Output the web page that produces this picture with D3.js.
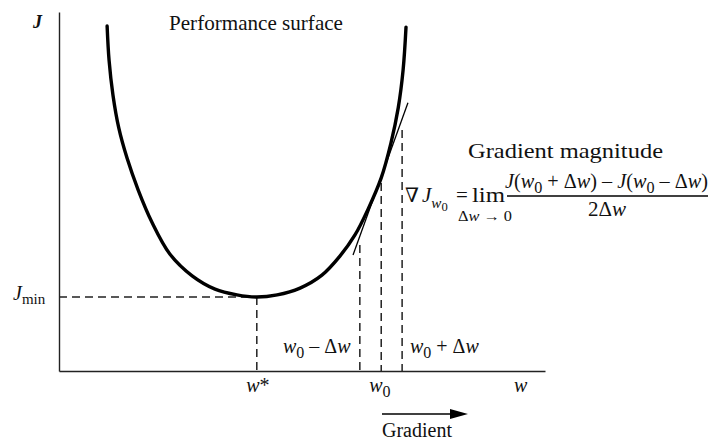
<!DOCTYPE html>
<html>
<head>
<meta charset="utf-8">
<script src="https://cdn.jsdelivr.net/npm/d3@7"></script>
<style>
  body { margin: 0; background: #fff; }
  text { font-family: "Liberation Serif", "DejaVu Serif", serif; fill: #111; }
</style>
</head>
<body>
<div id="chart"></div>
<script>
// performance surface J(w) (axis units 0..10)
const curveW = [0.99, 1.03, 1.11, 1.23, 1.40, 1.63, 1.91, 2.28, 2.74, 3.21, 3.66, 4.07, 4.49, 4.96, 5.41, 5.78, 6.09, 6.36, 6.63, 6.83, 6.98, 7.08, 7.14];
const curveJ = [9.61, 8.66, 7.69, 6.77, 5.93, 5.04, 4.15, 3.26, 2.65, 2.28, 2.12, 2.06, 2.12, 2.31, 2.67, 3.20, 3.79, 4.51, 5.38, 6.35, 7.33, 8.38, 9.58];

// tangent at w0
const tangentW = [6.05, 7.18];
const tangentJ = [3.23, 7.47];

// markers
const wStar = 4.07;
const jMin = 2.06;
const markerW = [6.19, 6.63, 7.06];     // w0 - dw, w0, w0 + dw
const markerTopJ = [3.51, 5.24, 6.71];

const W = 711, H = 441;
let svg, x, y;

function initViz() {
    svg = d3.select("#chart")
        .append("svg")
        .attr("width", W)
        .attr("height", H)
        .attr("viewBox", `0 0 ${W} ${H}`);

    x = d3.scaleLinear().domain([0, 10]).range([59, 545]);
    y = d3.scaleLinear().domain([0, 10]).range([371, 12]);

    drawAxes();
    drawGuides();
    drawCurve();
    drawLabels();
    drawFormula();
}

function drawAxes() {
    // plain axes, no ticks
    svg.append("g")
        .attr("transform", `translate(0,${y(0)})`)
        .call(d3.axisBottom(x).tickValues([]).tickSizeOuter(0))
        .select(".domain")
        .attr("stroke", "#222")
        .attr("stroke-width", 1.4);

    svg.append("g")
        .attr("transform", `translate(${x(0)},0)`)
        .call(d3.axisLeft(y).tickValues([]).tickSizeOuter(0))
        .select(".domain")
        .attr("stroke", "#222")
        .attr("stroke-width", 1.4);
}

function dashed(x1, y1, x2, y2) {
    svg.append("line")
        .attr("x1", x1).attr("y1", y1)
        .attr("x2", x2).attr("y2", y2)
        .attr("stroke", "#222")
        .attr("stroke-width", 1.5)
        .attr("stroke-dasharray", "8,5");
}

function drawGuides() {
    dashed(x(0), y(jMin), x(wStar), y(jMin));
    dashed(x(wStar), y(jMin), x(wStar), y(0));
    markerW.forEach((w, i) => dashed(x(w), y(markerTopJ[i]), x(w), y(0)));
}

function drawCurve() {
    const pts = curveW.map((w, i) => [w, curveJ[i]]);
    const line = d3.line()
        .x(d => x(d[0]))
        .y(d => y(d[1]))
        .curve(d3.curveCatmullRom);

    svg.append("path")
        .datum(pts)
        .attr("d", line)
        .attr("fill", "none")
        .attr("stroke", "#000")
        .attr("stroke-width", 3.4)
        .attr("stroke-linecap", "round");

    svg.append("line")
        .attr("x1", x(tangentW[0])).attr("y1", y(tangentJ[0]))
        .attr("x2", x(tangentW[1])).attr("y2", y(tangentJ[1]))
        .attr("stroke", "#000")
        .attr("stroke-width", 1.3);
}

// text with runs: [str, italic, sizeScale, dy]
function richText(px, py, runs, size, opts = {}) {
    const t = svg.append("text")
        .attr("x", px)
        .attr("y", py)
        .style("font-size", size + "px")
        .attr("text-anchor", opts.anchor || "start");
    if (opts.bold) t.style("font-weight", "bold");
    runs.forEach(r => {
        t.append("tspan")
            .text(r[0])
            .style("font-style", r[1] ? "italic" : "normal")
            .style("font-size", (r[2] || 1) * size + "px")
            .attr("dy", r[3] || 0);
    });
    if (opts.len) t.attr("textLength", opts.len).attr("lengthAdjust", "spacingAndGlyphs");
    return t;
}

function drawLabels() {
    richText(33, 28, [["J", true]], 18, { bold: true });
    richText(169, 30, [["Performance surface"]], 21, { len: 174 });
    richText(13, 300, [["J", true], ["min", false, 0.75, 4]], 20);

    richText(283, 353, [["w", true], ["0", false, 0.8, 5], [" \u2013 \u0394", false, 1, -5], ["w", true]], 20);
    richText(410, 353, [["w", true], ["0", false, 0.8, 5], [" + \u0394", false, 1, -5], ["w", true]], 20);

    richText(x(wStar) + 1, 392, [["w", true], ["*"]], 20, { anchor: "middle" });
    richText(x(markerW[1]) - 12, 392, [["w", true], ["0", false, 0.8, 5]], 20);
    richText(514, 392, [["w", true]], 20);

    // gradient direction arrow
    svg.append("line")
        .attr("x1", 382).attr("y1", 414)
        .attr("x2", 455).attr("y2", 414)
        .attr("stroke", "#000")
        .attr("stroke-width", 1.4);
    svg.append("path")
        .attr("d", "M468,414 L450,409 L450,419 Z")
        .attr("fill", "#000");
    richText(382, 437, [["Gradient"]], 20, { len: 70 });
}

function drawFormula() {
    richText(468, 158, [["Gradient magnitude"]], 21, { len: 195 });

    richText(405, 202, [["\u2207"]], 20);
    richText(422, 202, [["J", true], ["w", true, 0.72, 6], ["0", false, 0.6, 3]], 21);
    richText(456, 202, [["="]], 21);
    richText(472, 202, [["lim"]], 22, { len: 33 });
    richText(458, 221, [["\u0394", false], ["w", true], [" \u2192 0", false]], 14, { len: 54 });

    richText(505, 188, [
        ["J", true], ["("], ["w", true], ["0", false, 0.8, 5], [" + \u0394", false, 1, -5], ["w", true], [") \u2013 "],
        ["J", true], ["("], ["w", true], ["0", false, 0.8, 5], [" \u2013 \u0394", false, 1, -5], ["w", true], [")"]
    ], 21, { len: 203 });

    svg.append("line")
        .attr("x1", 507).attr("y1", 196)
        .attr("x2", 708).attr("y2", 196)
        .attr("stroke", "#000")
        .attr("stroke-width", 1.3);

    richText(607, 216, [["2\u0394"], ["w", true]], 21, { anchor: "middle" });
}

window.addEventListener('load', initViz);
</script>
</body>
</html>
